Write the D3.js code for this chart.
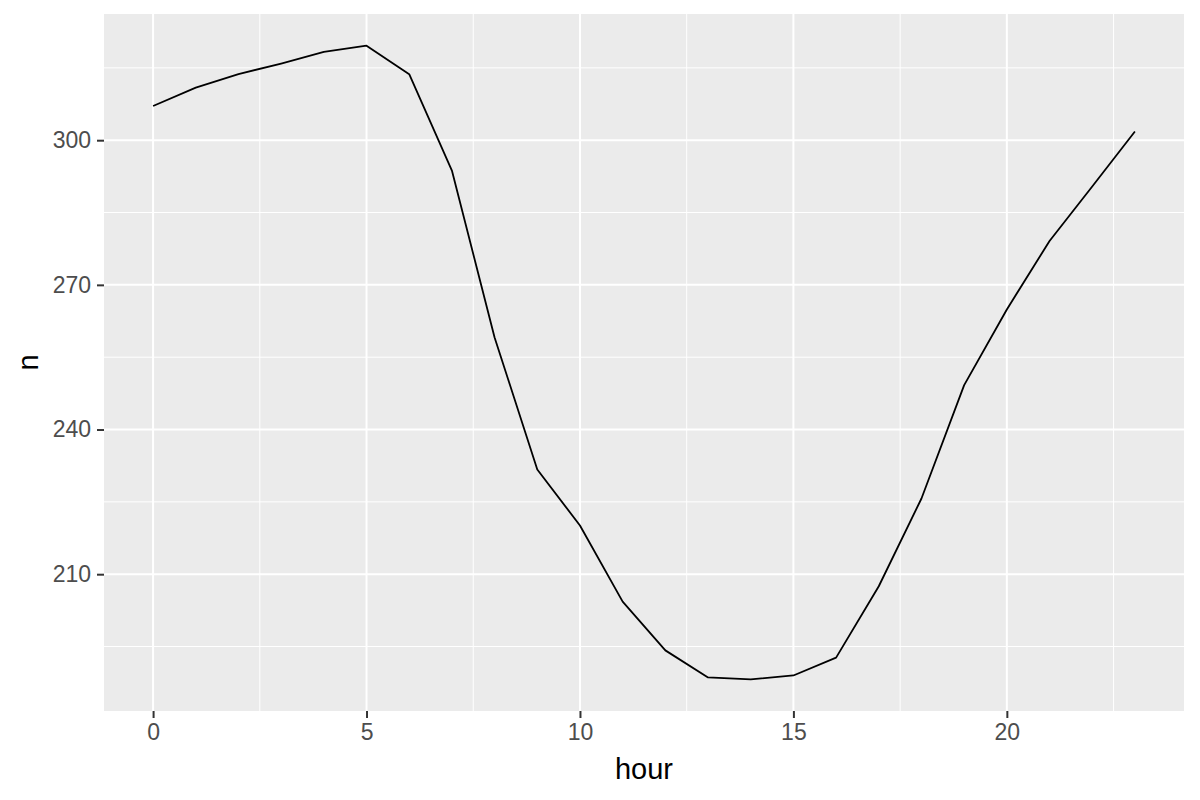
<!DOCTYPE html>
<html>
<head>
<meta charset="utf-8">
<script src="https://cdn.jsdelivr.net/npm/d3@7"></script>
<style>
    body { margin: 0; background: #ffffff; }
    text { font-family: "Liberation Sans", Arial, sans-serif; }
</style>
</head>
<body>
<div id="plot"></div>
<script>

    // hour of day vs count
    var hours = [0, 1, 2, 3, 4, 5, 6, 7, 8, 9, 10, 11, 12, 13, 14, 15, 16, 17, 18, 19, 20, 21, 22, 23];
    var counts = [307.1, 310.9, 313.7, 315.9, 318.3, 319.6, 313.7, 293.7, 259.1, 231.7, 220.1, 204.3,
        194.2, 188.6, 188.2, 189.0, 192.7, 207.5, 225.7, 249.2, 264.9, 279.1, 290.4, 301.8];
    var xTicks = [0, 5, 10, 15, 20];
    var yTicks = [210, 240, 270, 300];

    var width = 1200,
        h = 800;

    var margin = {
            top: 14,
            right: 16,
            bottom: 89,
            left: 104
        },
        pw = width - margin.left - margin.right,
        ph = h - margin.top - margin.bottom;

    var data = hours.map(function (d, i) {
        return [d, counts[i]];
    });

    // ggplot style 5% expansion
    function expand(ext) {
        var pad = (ext[1] - ext[0]) * 0.05;
        return [ext[0] - pad, ext[1] + pad];
    }

    var x = d3.scaleLinear()
        .domain(expand(d3.extent(hours)))
        .range([0, pw]);

    var y = d3.scaleLinear()
        .domain(expand(d3.extent(counts)))
        .range([ph, 0]);

    var svg = d3.select("#plot")
        .append("svg")
        .attr("width", width)
        .attr("height", h);

    var focus = svg.append("g")
        .attr("transform", "translate(" + margin.left + "," + margin.top + ")");

    focus.append("rect")
        .attr("width", pw)
        .attr("height", ph)
        .style("fill", "#ebebeb");

    // minor grid sits halfway between the major breaks
    var xMinor = xTicks.map(function (d) { return d + 2.5; }).concat([-2.5])
        .filter(function (d) { return d > x.domain()[0] && d < x.domain()[1]; });
    var yMinor = yTicks.map(function (d) { return d + 15; }).concat([yTicks[0] - 15])
        .filter(function (d) { return d > y.domain()[0] && d < y.domain()[1]; });

    focus.selectAll(".xminor").data(xMinor).enter().append("line")
        .attr("class", "xminor")
        .attr("x1", function (d) { return x(d); })
        .attr("x2", function (d) { return x(d); })
        .attr("y1", 0).attr("y2", ph)
        .style("stroke", "#ffffff").style("stroke-width", 1);

    focus.selectAll(".yminor").data(yMinor).enter().append("line")
        .attr("class", "yminor")
        .attr("y1", function (d) { return y(d); })
        .attr("y2", function (d) { return y(d); })
        .attr("x1", 0).attr("x2", pw)
        .style("stroke", "#ffffff").style("stroke-width", 1);

    focus.selectAll(".xmajor").data(xTicks).enter().append("line")
        .attr("class", "xmajor")
        .attr("x1", function (d) { return x(d); })
        .attr("x2", function (d) { return x(d); })
        .attr("y1", 0).attr("y2", ph)
        .style("stroke", "#ffffff").style("stroke-width", 2);

    focus.selectAll(".ymajor").data(yTicks).enter().append("line")
        .attr("class", "ymajor")
        .attr("y1", function (d) { return y(d); })
        .attr("y2", function (d) { return y(d); })
        .attr("x1", 0).attr("x2", pw)
        .style("stroke", "#ffffff").style("stroke-width", 2);

    var line = d3.line()
        .x(function (d) { return x(d[0]); })
        .y(function (d) { return y(d[1]); });

    focus.append("path")
        .datum(data)
        .attr("d", line)
        .style("fill", "none")
        .style("stroke", "#000000")
        .style("stroke-width", 1.8)
        .style("stroke-linejoin", "round");

    var xAxis = d3.axisBottom(x).tickValues(xTicks).tickSize(7).tickPadding(6),
        yAxis = d3.axisLeft(y).tickValues(yTicks).tickSize(7).tickPadding(6);

    var gx = focus.append("g")
        .attr("transform", "translate(0," + ph + ")")
        .call(xAxis);

    var gy = focus.append("g")
        .call(yAxis);

    [gx, gy].forEach(function (g) {
        g.select(".domain").remove();
        g.selectAll(".tick line").style("stroke", "#333333").style("stroke-width", 2);
        g.selectAll(".tick text")
            .style("fill", "#4d4d4d")
            .style("font-size", "23px")
            .style("font-family", "'Liberation Sans', Arial, sans-serif");
    });

    svg.append("text")
        .attr("x", margin.left + pw / 2)
        .attr("y", 779)
        .attr("text-anchor", "middle")
        .style("font-size", "29px")
        .style("fill", "#000000")
        .text("hour");

    svg.append("text")
        .attr("transform", "translate(38," + (margin.top + ph / 2) + ") rotate(-90)")
        .attr("text-anchor", "middle")
        .style("font-size", "29px")
        .style("fill", "#000000")
        .text("n");

</script>
</body>
</html>
